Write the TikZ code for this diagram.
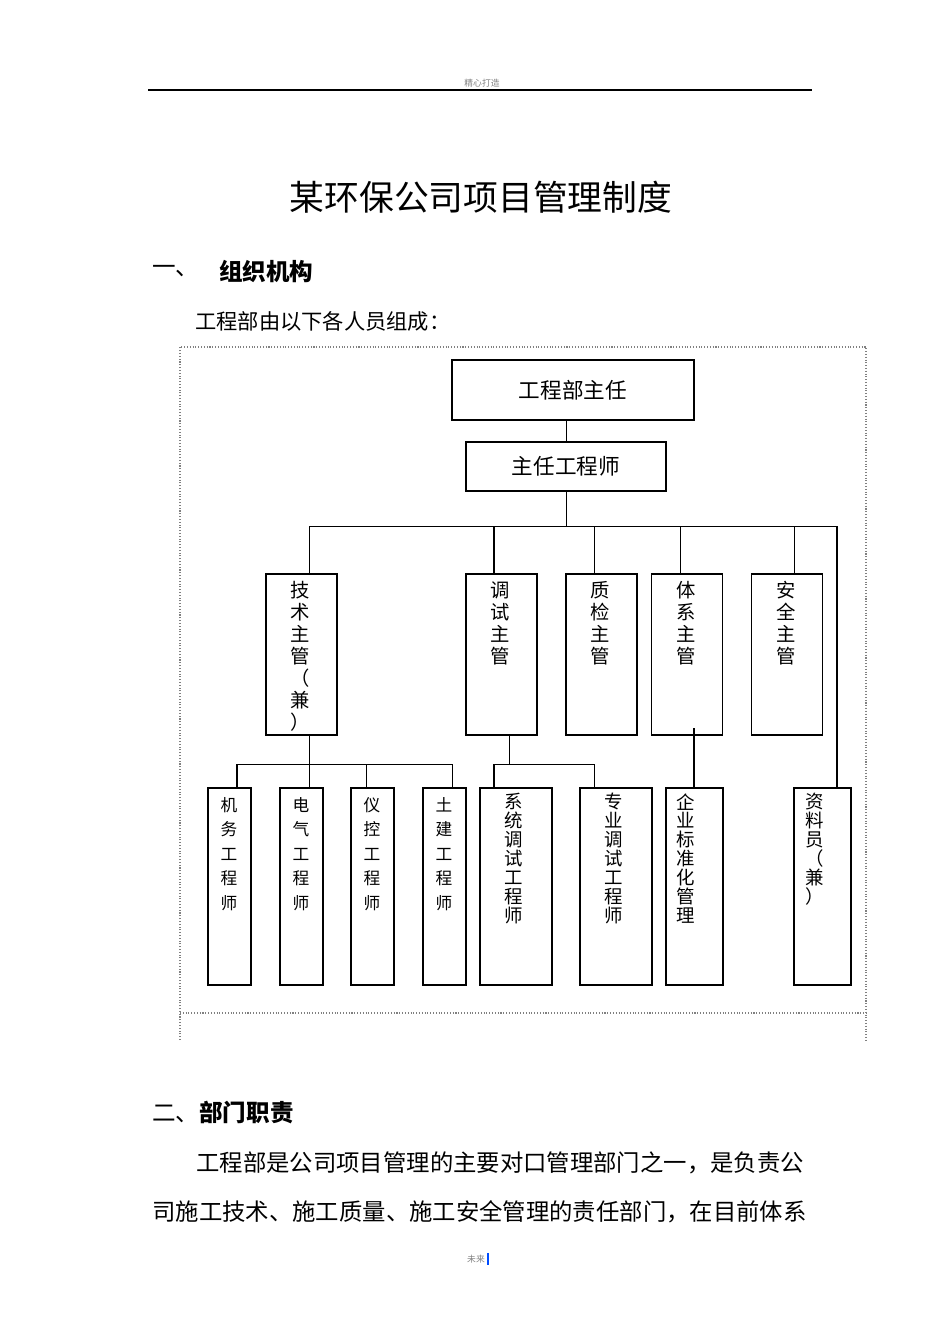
\documentclass[tikz,border=0pt]{standalone}
\usepackage{xcolor}
\usepackage{fontspec}
\newfontfamily\cjk{Noto Sans CJK SC}
\usepackage{tikz}
\usetikzlibrary{positioning,calc}

\begin{document}
\begin{tikzpicture}[x=0.02cm, y=-0.02cm,
    box/.style={rectangle, draw, line width=0.7pt, inner sep=0pt},
    midbox/.style={box, minimum width=1.42cm, minimum height=3.22cm},
    lowbox/.style={box, minimum width=0.86cm, minimum height=3.94cm},
    widebox/.style={box, minimum width=1.44cm, minimum height=3.94cm},
    vtext/.style={anchor=north, align=center, inner sep=0pt},
    midtext/.style={vtext, font=\cjk\fontsize{11}{12.5}\selectfont},
    lowtext/.style={vtext, font=\cjk\fontsize{9.5}{13.9}\selectfont},
    rtext/.style={vtext, font=\cjk\fontsize{10.5}{10.8}\selectfont},
    link/.style={line width=0.5pt},
    thicklink/.style={line width=1.1pt},
    body/.style={anchor=west, inner sep=0pt, font=\cjk\fontsize{13.3}{14}\selectfont}]
    \useasboundingbox (0,0) rectangle (945,1337);

    % page header and footer
    \node (head) at (482,83) [inner sep=0pt, text=gray, font=\cjk\fontsize{5}{6}\selectfont] {精心打造};
    \draw [line width=0.8pt] (148,90) -- (812,90);
    \node (foot) at (476,1259) [inner sep=0pt, text=gray, font=\cjk\fontsize{5}{6}\selectfont] {未来};
    \draw [blue!70!cyan, line width=0.8pt] (foot.east) ++(3,-6) -- ++(0,12);

    % title and first section
    \node (title) at (481,197) [inner sep=0pt, font=\cjk\fontsize{19.8}{22}\selectfont] {某环保公司项目管理制度};
    \node (sec1num) at (152,271) [anchor=west, inner sep=0pt, font=\cjk\fontsize{13.4}{14}\selectfont] {一、};
    \node (sec1) at (219,271) [anchor=west, inner sep=0pt, font=\cjk\bfseries\fontsize{13.4}{14}\selectfont] {组织机构};
    \node (intro) at (195,321) [anchor=west, inner sep=0pt, font=\cjk\fontsize{12.1}{14}\selectfont] {工程部由以下各人员组成：};

    % dotted frame
    \draw [gray, densely dotted, line width=0.6pt] (180,1040) -- (180,347) -- (866,347) -- (866,1040);
    \draw [gray, densely dotted, line width=0.6pt] (180,1013) -- (866,1013);

    % top of the chart
    \node (director) at (573,390) [box, minimum width=4.84cm, minimum height=1.2cm, font=\cjk\fontsize{12.3}{14}\selectfont] {工程部主任};
    \node (chief) at (566,466.5) [box, minimum width=4cm, minimum height=0.98cm, font=\cjk\fontsize{12.3}{14}\selectfont] {主任工程师};

    % middle row
    \node (jishu) at (301.5,654.5) [midbox] {};
    \node (tiaoshi) at (501.5,654.5) [midbox] {};
    \node (zhijian) at (601.5,654.5) [midbox] {};
    \node (tixi) at (687,654.5) [midbox] {};
    \node (anquan) at (787,654.5) [midbox] {};
    \node at (300,581) [midtext] {技\\术\\主\\管\\（\\兼\\）};
    \node at (500,581) [midtext] {调\\试\\主\\管};
    \node at (600,581) [midtext] {质\\检\\主\\管};
    \node at (686,581) [midtext] {体\\系\\主\\管};
    \node at (786,581) [midtext] {安\\全\\主\\管};

    % bottom row
    \node (jiwu) at (229.5,886.5) [lowbox] {};
    \node (dianqi) at (301.5,886.5) [lowbox] {};
    \node (yikong) at (372.5,886.5) [lowbox] {};
    \node (tujian) at (444.5,886.5) [lowbox] {};
    \node (xitong) at (516,886.5) [widebox] {};
    \node (zhuanye) at (616,886.5) [widebox] {};
    \node (qiye) at (694.5,886.5) [box, minimum width=1.14cm, minimum height=3.94cm] {};
    \node (ziliao) at (822.5,886.5) [box, minimum width=1.14cm, minimum height=3.94cm] {};
    \node at (229,797) [lowtext] {机\\务\\工\\程\\师};
    \node at (301,797) [lowtext] {电\\气\\工\\程\\师};
    \node at (372,797) [lowtext] {仪\\控\\工\\程\\师};
    \node at (444,797) [lowtext] {土\\建\\工\\程\\师};
    \node at (514,793) [rtext] {系\\统\\调\\试\\工\\程\\师};
    \node at (614,793) [rtext] {专\\业\\调\\试\\工\\程\\师};
    \node at (686,793) [rtext] {企\\业\\标\\准\\化\\管\\理};
    \node at (815,793) [rtext] {资\\料\\员\\（\\兼\\）};

    % connectors
    \coordinate (busL) at (309,526);
    \coordinate (busR) at (837,526);
    \draw [link] (chief.north |- director.south) -- (chief.north);
    \draw [link] (chief.south) -- (chief.south |- busL);
    \draw [link] (busL) -- (busR);
    \draw [link] (busL) -- (busL |- jishu.north);
    \draw [thicklink] (494,526) -- (494,526 |- tiaoshi.north);
    \draw [link] (594,526) -- (594,526 |- zhijian.north);
    \draw [link] (680,526) -- (680,526 |- tixi.north);
    \draw [link] (794,526) -- (794,526 |- anquan.north);
    \draw [thicklink] (busR) -- (busR |- ziliao.north);

    \coordinate (tech) at (309,764);
    \draw [link] (tech |- jishu.south) -- (tech);
    \draw [link] (237,764) -- (452,764);
    \draw [thicklink] (237,764) -- (237,764 |- jiwu.north);
    \draw [link] (tech) -- (tech |- dianqi.north);
    \draw [link] (366,764) -- (366,764 |- yikong.north);
    \draw [link] (452,764) -- (452,764 |- tujian.north);

    \coordinate (test) at (509,764);
    \draw [link] (test |- tiaoshi.south) -- (test);
    \draw [link] (494,764) -- (594,764);
    \draw [thicklink] (494,764) -- (494,764 |- xitong.north);
    \draw [link] (594,764) -- (594,764 |- zhuanye.north);

    \draw [thicklink] (694,728) -- (694,728 |- qiye.north);

    % second section
    \node (sec2) at (152,1113) [anchor=west, inner sep=0pt, font=\cjk\fontsize{13.4}{14}\selectfont] {二、\textbf{部门职责}};
    \node (line1) at (196,1163) [body] {工程部是公司项目管理的主要对口管理部门之一，是负责公};
    \node (line2) at (152,1212) [body] {司施工技术、施工质量、施工安全管理的责任部门，在目前体系};
\end{tikzpicture}
\end{document}
